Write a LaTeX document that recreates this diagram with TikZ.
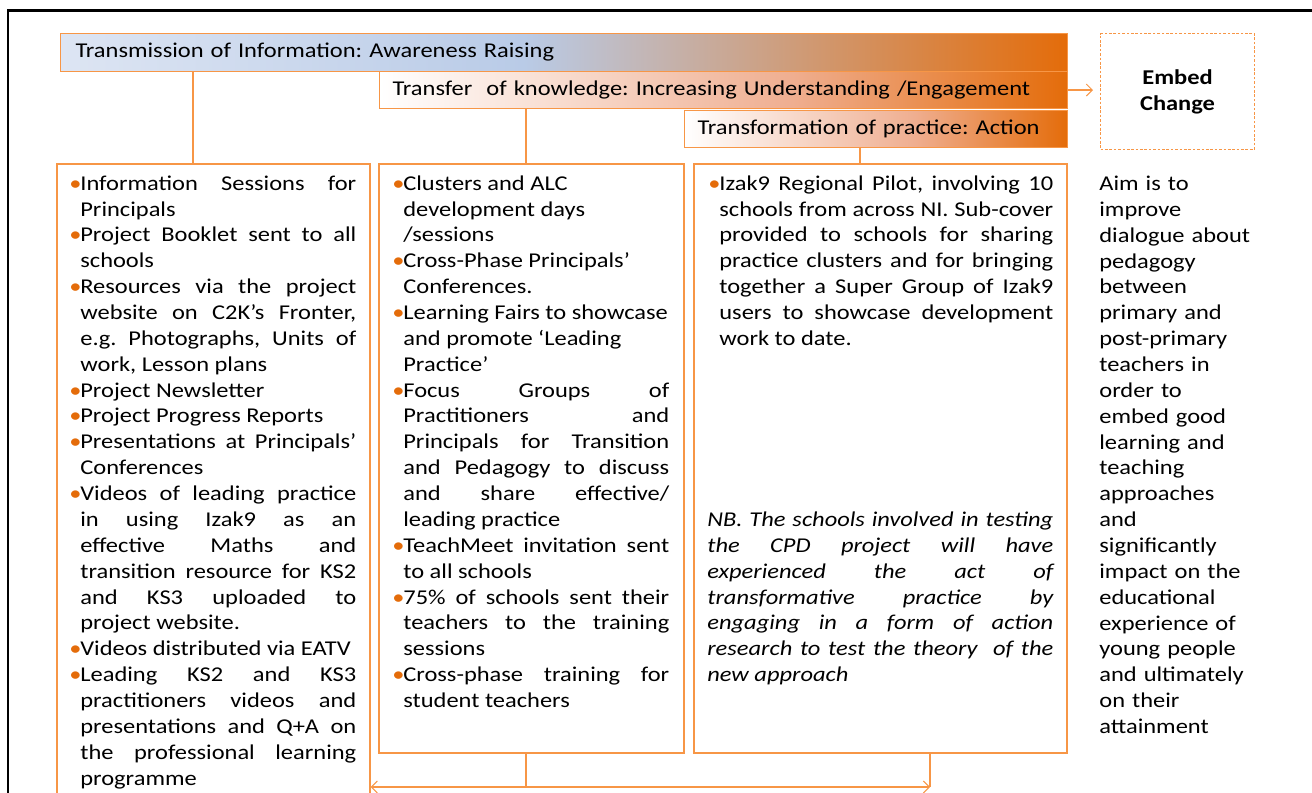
\documentclass[tikz,border=0pt]{standalone}
\usepackage{fontspec}
\setmainfont{Carlito}[FakeStretch=1.16]
\usetikzlibrary{arrows.meta,fit}
\frenchspacing

\definecolor{accentor}{HTML}{F79646}
\definecolor{deepor}{HTML}{E46C0A}
\definecolor{paleblue}{HTML}{DDE5F3}
\definecolor{midblue}{HTML}{B9CBE7}
\definecolor{salmon}{HTML}{EFAE90}

\pgfdeclarehorizontalshading{awareshade}{100bp}{color(0bp)=(paleblue); color(25bp)=(paleblue); color(48bp)=(midblue); color(75bp)=(deepor); color(100bp)=(deepor)}
\pgfdeclarehorizontalshading{engageshade}{100bp}{color(0bp)=(white); color(25bp)=(white); color(55bp)=(salmon); color(75bp)=(deepor); color(100bp)=(deepor)}

\newlength{\bulhang}
\setlength{\bulhang}{0.22cm}
\newcommand{\bul}{\par\hangindent=\bulhang\hangafter=1\noindent\strut\makebox[\bulhang][l]{\textcolor{deepor}{•}}\ignorespaces}

\tikzset{
	bar/.style={draw=accentor, line width=0.6pt, anchor=north west, inner ysep=0pt, align=left, font=\fontsize{12}{14.7}\selectfont},
	panel/.style={draw=accentor, line width=0.6pt, inner sep=0pt},
	bodytext/.style={inner sep=0pt, anchor=north west, align=justify, font=\fontsize{12}{14.72}\selectfont},
	link/.style={draw=accentor, line width=0.6pt},
	tip/.tip={Straight Barb[length=0.12cm, width=0.24cm]}
}

\begin{document}
\begin{tikzpicture}[x=0.02cm, y=-0.02cm]
	\useasboundingbox (0,0) rectangle (1312,793);
	\clip (0,0) rectangle (1312,793);
	\draw[line width=1.7pt] (8,840) |- (1340,11);

	\node[bar, shading=awareshade, inner xsep=0.3cm, minimum height=0.76cm, text width=19.54cm] (aware) at (60,33) {Transmission of Information: Awareness Raising};
	\node[bar, shading=engageshade, inner xsep=0.26cm, minimum height=0.74cm, text width=13.24cm] (engage) at (379,71) {Transfer\ \ of knowledge: Increasing Understanding /Engagement};
	\node[bar, shading=engageshade, inner xsep=0.26cm, minimum height=0.74cm, text width=7.14cm] (action) at (684,110) {Transformation of practice: Action};
	\node[panel, dash pattern=on 1.5pt off 1pt, anchor=north west, minimum width=3.08cm, minimum height=2.32cm, align=center, font=\fontsize{12}{14.7}\selectfont\bfseries] (embed) at (1100,33) {Embed\\Change};

	\node[panel, fit={(57,164) (370,840)}] (infobox) {};
	\node[panel, fit={(379,164) (684,753)}] (clusterbox) {};
	\node[panel, fit={(694,164) (1067,753)}] (pilotbox) {};

	\node[bodytext, text width=5.74cm] (infolist) at (69,164) {%
		\bul Information Sessions for\linebreak Principals
		\bul Project Booklet sent to all\linebreak schools
		\bul Resources via the project\linebreak website on C2K’s Fronter,\linebreak e.g. Photographs, Units of\linebreak work, Lesson plans
		\bul Project Newsletter
		\bul Project Progress Reports
		\bul Presentations at Principals’\linebreak Conferences
		\bul Videos of leading practice\linebreak in using Izak9 as an\linebreak effective Maths and\linebreak transition resource for KS2\linebreak and KS3 uploaded to\linebreak project website.
		\bul Videos distributed via EATV
		\bul Leading KS2 and KS3\linebreak practitioners videos and\linebreak presentations and Q+A on\linebreak the professional learning\linebreak programme\par};
	\node[bodytext, text width=5.54cm] (clusterlist) at (392,164) {%
		\bul Clusters and ALC\newline development days\newline /sessions
		\bul Cross-Phase Principals’\newline Conferences.
		\bul Learning Fairs to showcase\newline and promote ‘Leading\newline Practice’
		\bul Focus Groups of\linebreak Practitioners and\linebreak Principals for Transition\linebreak and Pedagogy to discuss\linebreak and share effective/\linebreak leading practice
		\bul TeachMeet invitation sent\linebreak to all schools
		\bul 75\% of schools sent their\linebreak teachers to the training\linebreak sessions
		\bul Cross-phase training for\linebreak student teachers\par};
	\node[bodytext, text width=6.9cm] (pilotlist) at (708,164) {%
		\bul Izak9 Regional Pilot, involving 10\linebreak schools from across NI. Sub-cover\linebreak provided to schools for sharing\linebreak practice clusters and for bringing\linebreak together a Super Group of Izak9\linebreak users to showcase development\linebreak work to date.\par};
	\node[bodytext, text width=6.92cm] (nbnote) at (707,508) {%
		\strut\itshape NB. The schools involved in testing\linebreak the CPD project will have\linebreak experienced the act of\linebreak transformative practice by\linebreak engaging in a form of action\linebreak research to test the theory\ \ of the\linebreak new approach};
	\node[bodytext, align=left, text width=3.4cm] (aimtext) at (1099,172) {%
		\strut Aim is to\\improve\\dialogue about\\pedagogy\\between\\primary and\\post-primary\\teachers in\\order to\\embed good\\learning and\\teaching\\approaches\\and\\significantly\\impact on the\\educational\\experience of\\young people\\and ultimately\\on their\\attainment};

	\coordinate (tapA) at (193,0);
	\coordinate (tapB) at (526,0);
	\coordinate (tapC) at (860,0);
	\coordinate (tapD) at (930,0);
	\coordinate (loopY) at (0,787);
	\path (engage.east -| embed.west) ++(-7,0) coordinate (embedin);

	\draw[link] (aware.south -| tapA) -- (infobox.north -| tapA);
	\draw[link] (engage.south -| tapB) -- (clusterbox.north -| tapB);
	\draw[link] (action.south -| tapC) -- (pilotbox.north -| tapC);
	\draw[link, -tip] (engage.east) -- (embedin);

	\draw[link] (clusterbox.south -| tapB) -- (tapB |- loopY);
	\draw[link] (pilotbox.south -| tapD) -- (tapD |- loopY);
	\draw[link, tip-tip] (infobox.east |- loopY) -- (tapD |- loopY);
\end{tikzpicture}
\end{document}
